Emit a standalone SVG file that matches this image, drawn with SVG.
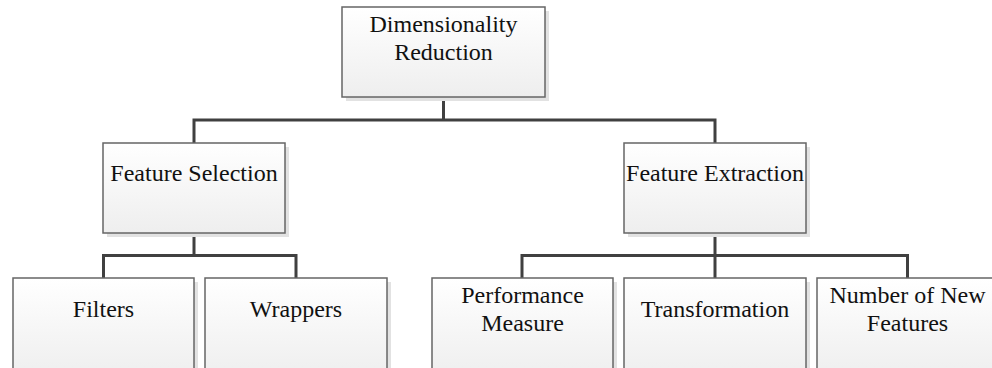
<svg xmlns="http://www.w3.org/2000/svg" width="992" height="368" viewBox="0 0 992 368">
<defs>
<linearGradient id="g" x1="0" y1="0" x2="0" y2="1">
<stop offset="0" stop-color="#ffffff"/>
<stop offset="1" stop-color="#eeeeee"/>
</linearGradient>
<style>
.sh{fill:#e2e2e2;stroke:none}
.bx{fill:url(#g);stroke:#666666;stroke-width:1.5}
.t{font-family:"Liberation Serif","Times New Roman",serif;font-size:24px;fill:#111;text-anchor:middle}
.c{fill:none;stroke:#404040;stroke-width:3}
</style>
</defs>
<rect width="992" height="368" fill="#ffffff"/>
<g id="connectors">
<path class="c" d="M443.5 97V120M194 120H715M194 118.5V143M715 118.5V143"/>
<path class="c" d="M194 233V255.5M103.5 255.5H296M103.5 254V278M296 254V278"/>
<path class="c" d="M715 233V278M522 255.5H907.5M522 254V278M907.5 254V278"/>
</g>
<g id="n-dimred">
<rect class="sh" x="346" y="11" width="203" height="90"/>
<rect class="bx" x="342" y="7" width="203" height="90"/>
<text class="t" x="443.5" y="32">Dimensionality</text>
<text class="t" x="443.5" y="60">Reduction</text>
</g>
<g id="n-fsel">
<rect class="sh" x="107" y="147" width="182" height="90"/>
<rect class="bx" x="103" y="143" width="182" height="90"/>
<text class="t" x="194" y="181">Feature Selection</text>
</g>
<g id="n-fext">
<rect class="sh" x="628" y="147" width="182" height="90"/>
<rect class="bx" x="624" y="143" width="182" height="90"/>
<text class="t" x="715" y="181">Feature Extraction</text>
</g>
<g id="n-filters">
<rect class="sh" x="17" y="282" width="181" height="100"/>
<rect class="bx" x="13" y="278" width="181" height="100"/>
<text class="t" x="103.5" y="317">Filters</text>
</g>
<g id="n-wrappers">
<rect class="sh" x="209" y="282" width="182" height="100"/>
<rect class="bx" x="205" y="278" width="182" height="100"/>
<text class="t" x="296" y="317">Wrappers</text>
</g>
<g id="n-perf">
<rect class="sh" x="436" y="282" width="181" height="100"/>
<rect class="bx" x="432" y="278" width="181" height="100"/>
<text class="t" x="522.5" y="303">Performance</text>
<text class="t" x="522.5" y="331">Measure</text>
</g>
<g id="n-trans">
<rect class="sh" x="628" y="282" width="182" height="100"/>
<rect class="bx" x="624" y="278" width="182" height="100"/>
<text class="t" x="715" y="317">Transformation</text>
</g>
<g id="n-num">
<rect class="sh" x="821" y="282" width="181" height="100"/>
<rect class="bx" x="817" y="278" width="181" height="100"/>
<text class="t" x="907.5" y="303">Number of New</text>
<text class="t" x="907.5" y="331">Features</text>
</g>
</svg>
